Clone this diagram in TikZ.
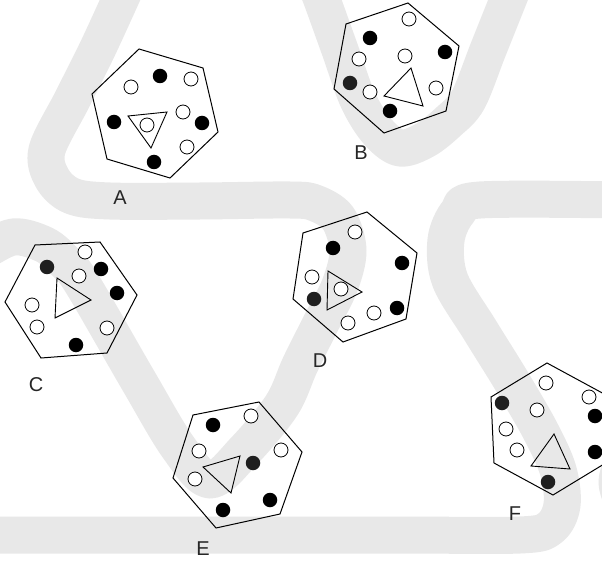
\documentclass[tikz,border=0pt]{standalone}
\usepackage{fontspec}
\newfontfamily\lblfont{Liberation Sans}
\definecolor{bandgray}{RGB}{232,232,232}
\tikzset{
  band/.style={draw=bandgray, line width=37pt, line cap=butt, line join=round},
  hexline/.style={draw=black, line width=1pt, line join=miter},
  triline/.style={draw=black, line width=0.9pt, line join=miter},
  opencirc/.style={circle, draw=black, fill=white, minimum size=14pt, inner sep=0pt, line width=0.8pt},
  fillcirc/.style={circle, fill=black, minimum size=14.5pt, inner sep=0pt},
  darkcirc/.style={circle, fill=black!88, minimum size=14.5pt, inner sep=0pt},
  lbl/.style={font=\lblfont\fontsize{20}{20}\selectfont, text=black!85, inner sep=0pt}
}
\begin{document}
\begin{tikzpicture}[x=1pt,y=-1pt]
\useasboundingbox (0,0) rectangle (602,561);
\begin{scope}
\clip (0,0) rectangle (602,561);
\fill[white] (0,0) rectangle (602,561);
% background bands
\draw[band] plot[smooth, tension=0.55] coordinates {(-20,254) (13,237) (45,245) (66,263) (83,285) (138,380) (178,447) (210,480) (245,450) (282,405) (300,365) (320,325) (340,285) (348,250) (338,218) (315,203) (290,200) (200,201) (110,201) (72,196) (52,178) (47,150) (72,100) (97,50) (120,0) (128,-18)};
\draw[band] plot[smooth, tension=0.55] coordinates {(314,-20) (322,0) (340,50) (358,100) (378,132) (400,148) (425,140) (448,122) (468,100) (488,50) (508,0) (516,-20)};
\draw[band] plot[smooth, tension=0.55] coordinates {(620,200) (480,200) (458,212) (446,240) (450,280) (480,330) (511,380) (540,430) (558,470) (562,505) (550,528) (520,535) (400,535) (200,535) (0,535) (-20,535)};
\draw[band] plot[smooth, tension=0.55] coordinates {(650,420) (617,482) (650,545)};
% hexagons
\draw[hexline] (139,49) -- (203,68) -- (218,132) -- (170,178) -- (107,159) -- (92,94) -- cycle;
\draw[hexline] (408,3) -- (459,46) -- (446,111) -- (384,133) -- (334,89) -- (346,24) -- cycle;
\draw[hexline] (35,245) -- (100,242) -- (137,295) -- (107,353) -- (41,358) -- (5,302) -- cycle;
\draw[hexline] (303,233) -- (367,212) -- (417,253) -- (406,319) -- (343,342) -- (293,299) -- cycle;
\draw[hexline] (193,415) -- (259,402) -- (302,452) -- (280,514) -- (216,528) -- (173,478) -- cycle;
\draw[hexline] (547,363) -- (606,395) -- (609,461) -- (553,495) -- (494,463) -- (491,397) -- cycle;
% triangles
\draw[triline] (128,116) -- (167,112) -- (151,148) -- cycle;
\draw[triline] (411,68) -- (423,106) -- (384,96) -- cycle;
\draw[triline] (57,278) -- (91,300) -- (55,318) -- cycle;
\draw[triline] (328,271) -- (362,292) -- (327,310) -- cycle;
\draw[triline] (203,467) -- (240,456) -- (231,493) -- cycle;
\draw[triline] (554,434) -- (570,469) -- (531,466) -- cycle;
% circles A
\node[fillcirc] (a1) at (160,76) {};
\node[fillcirc] (a2) at (114,122) {};
\node[fillcirc] (a3) at (202,123) {};
\node[fillcirc] (a4) at (154,162) {};
\node[opencirc] (a5) at (131,87) {};
\node[opencirc] (a6) at (191,79) {};
\node[opencirc] (a7) at (183,112) {};
\node[opencirc] (a8) at (187,147) {};
\node[opencirc] (a9) at (147,125) {};
% circles B
\node[opencirc] (b1) at (409,19) {};
\node[fillcirc] (b2) at (370,38) {};
\node[fillcirc] (b3) at (445,52) {};
\node[opencirc] (b4) at (359,59) {};
\node[opencirc] (b5) at (405,56) {};
\node[darkcirc] (b6) at (350,83) {};
\node[opencirc] (b7) at (370,92) {};
\node[opencirc] (b8) at (436,88) {};
\node[fillcirc] (b9) at (390,111) {};
% circles C
\node[opencirc] (c1) at (85,252) {};
\node[darkcirc] (c2) at (47,267) {};
\node[fillcirc] (c3) at (101,269) {};
\node[opencirc] (c4) at (79,276) {};
\node[fillcirc] (c5) at (117,293) {};
\node[opencirc] (c6) at (32,305) {};
\node[opencirc] (c7) at (37,327) {};
\node[opencirc] (c8) at (107,328) {};
\node[fillcirc] (c9) at (76,345) {};
% circles D
\node[opencirc] (d1) at (355,232) {};
\node[fillcirc] (d2) at (333,248) {};
\node[fillcirc] (d3) at (402,263) {};
\node[opencirc] (d4) at (312,277) {};
\node[opencirc] (d5) at (341,289) {};
\node[darkcirc] (d6) at (314,299) {};
\node[opencirc] (d7) at (374,313) {};
\node[fillcirc] (d8) at (397,308) {};
\node[opencirc] (d9) at (348,323) {};
% circles E
\node[fillcirc] (e1) at (213,425) {};
\node[opencirc] (e2) at (251,416) {};
\node[opencirc] (e3) at (199,451) {};
\node[opencirc] (e4) at (281,450) {};
\node[darkcirc] (e5) at (253,463) {};
\node[opencirc] (e6) at (195,479) {};
\node[fillcirc] (e7) at (270,500) {};
\node[fillcirc] (e8) at (223,510) {};
% circles F
\node[opencirc] (f1) at (546,383) {};
\node[darkcirc] (f2) at (502,403) {};
\node[opencirc] (f3) at (589,397) {};
\node[opencirc] (f4) at (537,410) {};
\node[fillcirc] (f5) at (595,416) {};
\node[opencirc] (f6) at (506,429) {};
\node[opencirc] (f7) at (517,450) {};
\node[fillcirc] (f8) at (595,452) {};
\node[darkcirc] (f9) at (548,482) {};
\end{scope}
% labels
\node[lbl] (la) at (120,198) {A};
\node[lbl] (lb) at (361,153) {B};
\node[lbl] (lc) at (36,385) {C};
\node[lbl] (ld) at (320,361) {D};
\node[lbl] (le) at (203,549) {E};
\node[lbl] (lf) at (515,514) {F};
\end{tikzpicture}
\end{document}
